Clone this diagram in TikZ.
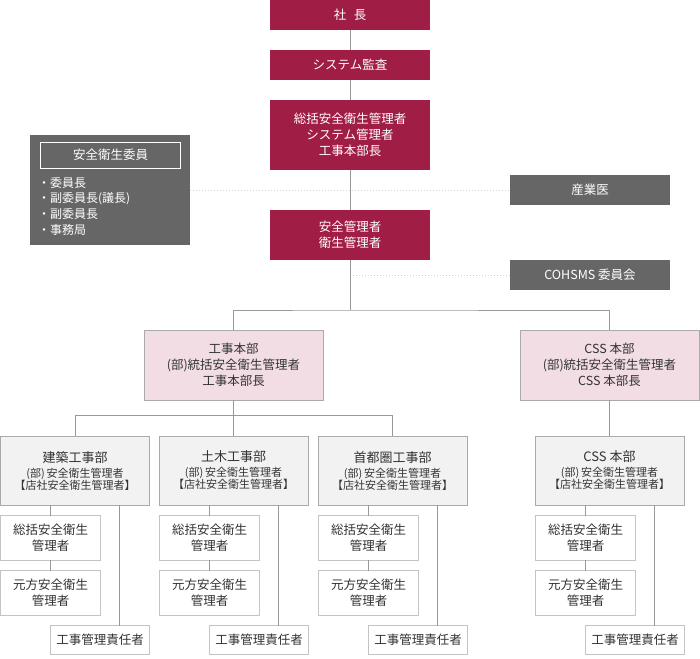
\documentclass[tikz,border=0pt]{standalone}
\usepackage{fontspec}
\setmainfont{Noto Sans CJK JP}
\usetikzlibrary{positioning}
\definecolor{crimson}{HTML}{A01D45}
\definecolor{boardgray}{HTML}{666666}
\definecolor{pinkfill}{HTML}{F2DDE4}
\definecolor{lightfill}{HTML}{F2F2F2}
\definecolor{linegray}{HTML}{999999}
\definecolor{boxline}{HTML}{AAAAAA}
\definecolor{subline}{HTML}{C4C4C4}
\definecolor{dotgray}{HTML}{D4D4D4}
\definecolor{textgray}{HTML}{333333}

\begin{document}
\begin{tikzpicture}[
            x = 1pt, y = -1pt, % pixel grid, y pointing down
            line width = 0.9pt, % line style
            every node/.style = {inner sep = 0pt, outer sep = 0pt}
        ]

        \tikzstyle{redbox}=[
            fill = crimson,
            text = white,
            minimum width = 160pt,
            align = center,
            font = \fontsize{12.5}{16}\selectfont
        ]
        \tikzstyle{graybox}=[
            fill = boardgray,
            text = white,
            minimum width = 160pt,
            minimum height = 30pt,
            font = \fontsize{12.5}{16}\selectfont
        ]
        \tikzstyle{hqbox}=[
            draw = boxline,
            fill = pinkfill,
            text = textgray,
            minimum width = 179pt,
            minimum height = 70pt,
            align = center,
            font = \fontsize{12.5}{16}\selectfont
        ]
        \tikzstyle{deptbox}=[
            draw = boxline,
            fill = lightfill,
            text = textgray,
            minimum width = 149pt,
            minimum height = 69pt,
            align = center
        ]
        \tikzstyle{subbox}=[
            draw = subline,
            fill = white,
            text = textgray,
            minimum width = 100pt,
            minimum height = 44.5pt,
            align = center,
            font = \fontsize{12.5}{16}\selectfont
        ]
        \tikzstyle{kanribox}=[subbox, minimum width = 99pt, minimum height = 29pt]
        \tikzstyle{line}=[draw = linegray]
        \tikzstyle{dotline}=[draw = dotgray, dash pattern = on 1pt off 2pt]

        \useasboundingbox (0,0) rectangle (700,658);

        % top management
        \node[redbox, minimum height = 30pt] (CEO) at (350,15) {社\hspace{0.6em}長};
        \node[redbox, minimum height = 30pt] (AUD) at (350,65) {システム監査};
        \node[redbox, minimum height = 70pt] (GSM) at (350,135) {総括安全衛生管理者\\システム管理者\\工事本部長};
        \node[redbox, minimum height = 50pt] (SM) at (350,235) {安全管理者\\衛生管理者};

        \path[line] (CEO) edge (AUD);
        \path[line] (AUD) edge (GSM);
        \path[line] (GSM) edge (SM);

        % committee and advisers
        \node[fill = boardgray, minimum width = 160pt, minimum height = 110pt] (CMT) at (110,190) {};
        \node[draw = white, text = white, minimum width = 140pt, minimum height = 26pt,
              font = \fontsize{12.5}{16}\selectfont] (CMTT) at (110.5,155) {安全衛生委員};
        \node[text = white, align = left, anchor = north west,
              font = \fontsize{12}{15.7}\selectfont] (CMTL) at (38,177) {・委員長\\・副委員長(議長)\\・副委員長\\・事務局};

        \node[graybox] (DOC) at (590,190) {産業医};
        \node[graybox] (COH) at (590,275) {COHSMS 委員会};

        \path[dotline] (CMT.east) edge (DOC.west);
        \path[dotline] (COH.west -| SM.south) edge (COH.west);

        % headquarters
        \node[hqbox] (KHQ) at (233.5,365) {工事本部\\(部)統括安全衛生管理者\\工事本部長};
        \node[hqbox] (CHQ) at (609.5,365) {CSS 本部\\(部)統括安全衛生管理者\\CSS 本部長};

        \coordinate (B1) at (350,310);
        \draw[line] (SM.south) -- (B1);
        \draw[line] (KHQ.north) |- (B1) -| (CHQ.north);

        % departments
        \node[deptbox] (KEN) at (75,470.5) {\fontsize{13}{16}\selectfont 建築工事部\\[3pt]\fontsize{11}{13}\selectfont (部)\,安全衛生管理者\\\fontsize{11}{13}\selectfont 【店社安全衛生管理者】};
        \node[deptbox] (DOB) at (233.5,470.5) {\fontsize{13}{16}\selectfont 土木工事部\\[3pt]\fontsize{11}{13}\selectfont (部)\,安全衛生管理者\\\fontsize{11}{13}\selectfont 【店社安全衛生管理者】};
        \node[deptbox] (SHU) at (392.5,470.5) {\fontsize{13}{16}\selectfont 首都圏工事部\\[3pt]\fontsize{11}{13}\selectfont (部)\,安全衛生管理者\\\fontsize{11}{13}\selectfont 【店社安全衛生管理者】};
        \node[deptbox] (CSS) at (609.5,470.5) {\fontsize{13}{16}\selectfont CSS 本部\\[3pt]\fontsize{11}{13}\selectfont (部)\,安全衛生管理者\\\fontsize{11}{13}\selectfont 【店社安全衛生管理者】};

        \coordinate (B2) at (233.5,415.5);
        \draw[line] (KEN.north) |- (B2) -| (SHU.north);
        \path[line] (KHQ) edge (DOB);
        \path[line] (CHQ) edge (CSS);

        % site managers
        \node[subbox] (KEN1) at (50.5,538) {総括安全衛生\\管理者};
        \node[subbox] (KEN2) at (50.5,593) {元方安全衛生\\管理者};
        \node[kanribox] (KEN3) at (100,640) {工事管理責任者};

        \node[subbox] (DOB1) at (209.5,538) {総括安全衛生\\管理者};
        \node[subbox] (DOB2) at (209.5,593) {元方安全衛生\\管理者};
        \node[kanribox] (DOB3) at (259,640) {工事管理責任者};

        \node[subbox] (SHU1) at (368.5,538) {総括安全衛生\\管理者};
        \node[subbox] (SHU2) at (368.5,593) {元方安全衛生\\管理者};
        \node[kanribox] (SHU3) at (418,640) {工事管理責任者};

        \node[subbox] (CSS1) at (585.5,538) {総括安全衛生\\管理者};
        \node[subbox] (CSS2) at (585.5,593) {元方安全衛生\\管理者};
        \node[kanribox] (CSS3) at (635,640) {工事管理責任者};

        \draw[line] (KEN1.north |- KEN.south) -- (KEN1.north);
        \path[line] (KEN1) edge (KEN2);
        \coordinate (KENR) at ([xshift = -30pt]KEN.south east);
        \draw[line] (KENR) -- (KENR |- KEN3.north);

        \draw[line] (DOB1.north |- DOB.south) -- (DOB1.north);
        \path[line] (DOB1) edge (DOB2);
        \coordinate (DOBR) at ([xshift = -30pt]DOB.south east);
        \draw[line] (DOBR) -- (DOBR |- DOB3.north);

        \draw[line] (SHU1.north |- SHU.south) -- (SHU1.north);
        \path[line] (SHU1) edge (SHU2);
        \coordinate (SHUR) at ([xshift = -30pt]SHU.south east);
        \draw[line] (SHUR) -- (SHUR |- SHU3.north);

        \draw[line] (CSS1.north |- CSS.south) -- (CSS1.north);
        \path[line] (CSS1) edge (CSS2);
        \coordinate (CSSR) at ([xshift = -30pt]CSS.south east);
        \draw[line] (CSSR) -- (CSSR |- CSS3.north);

\end{tikzpicture}
\end{document}
